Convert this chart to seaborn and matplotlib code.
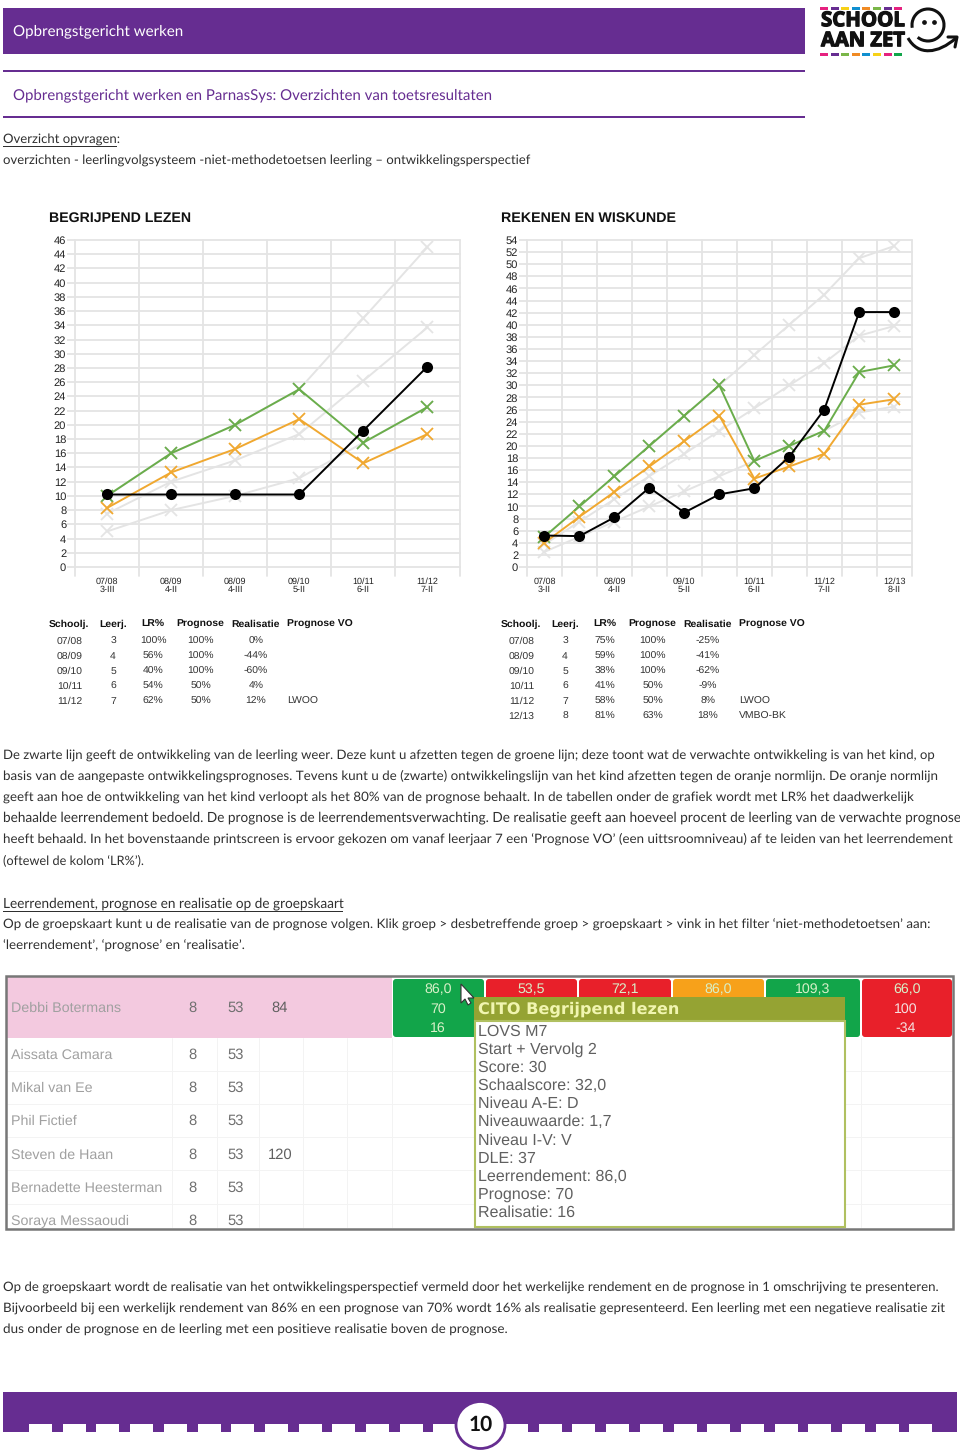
import numpy as np
import pandas as pd
import seaborn as sns
from matplotlib import pyplot as plt
from matplotlib import patheffects as pe
from matplotlib.patches import Rectangle, Ellipse, Arc, PathPatch, FancyBboxPatch
from matplotlib.path import Path

# --- chart data
left_labels = ['07/08\n3-III', '08/09\n4-II', '08/09\n4-III', '09/10\n5-II', '10/11\n6-II', '11/12\n7-II']
left_grey_top = [10, 16, 20, 25, 35, 45]
left_grey_mid = [7.5, 12, 15, 18.7, 26.2, 33.7]
left_grey_low = [5, 8, 10, 12.5, 17.5, 22.5]
left_green = [10, 16, 20, 25, 17.5, 22.5]
left_orange = [8.3, 13.3, 16.6, 20.8, 14.6, 18.7]
left_black = [10.2, 10.2, 10.2, 10.2, 19.2, 28.2]

right_labels = ['07/08\n3-II', '', '08/09\n4-II', '', '09/10\n5-II', '', '10/11\n6-II', '', '11/12\n7-II', '', '12/13\n8-II']
right_grey_top = [5, 10, 15, 20, 25, 30, 35, 40, 45, 51, 53]
right_grey_mid = [3.75, 7.5, 11.2, 15, 18.7, 22.5, 26.2, 30, 33.7, 38.2, 39.8]
right_grey_low = [2.5, 5, 7.5, 10, 12.5, 15, 17.5, 20, 22.5, 25.5, 26.5]
right_green = [5, 10, 15, 20, 25, 30, 17.5, 20, 22.5, 32.2, 33.3]
right_orange = [4, 8.3, 12.4, 16.6, 20.8, 25, 14.6, 16.6, 18.7, 26.8, 27.7]
right_black = [5.2, 5.1, 8.2, 13.1, 9, 12, 13, 18.2, 26, 42.1, 42.1]

# --- tables under the charts
table_head = ['Schoolj.', 'Leerj.', 'LR%', 'Prognose', 'Realisatie', 'Prognose VO']
left_rows = [
    ['07/08', '3', '100%', '100%', '0%', ''],
    ['08/09', '4', '56%', '100%', '-44%', ''],
    ['09/10', '5', '40%', '100%', '-60%', ''],
    ['10/11', '6', '54%', '50%', '4%', ''],
    ['11/12', '7', '62%', '50%', '12%', 'LWOO'],
]
right_rows = [
    ['07/08', '3', '75%', '100%', '-25%', ''],
    ['08/09', '4', '59%', '100%', '-41%', ''],
    ['09/10', '5', '38%', '100%', '-62%', ''],
    ['10/11', '6', '41%', '50%', '-9%', ''],
    ['11/12', '7', '58%', '50%', '8%', 'LWOO'],
    ['12/13', '8', '81%', '63%', '18%', 'VMBO-BK'],
]

# --- text blocks
para_1 = [
    'De zwarte lijn geeft de ontwikkeling van de leerling weer. Deze kunt u afzetten tegen de groene lijn; deze toont wat de verwachte ontwikkeling is van het kind, op',
    'basis van de aangepaste ontwikkelingsprognoses. Tevens kunt u de (zwarte) ontwikkelingslijn van het kind afzetten tegen de oranje normlijn. De oranje normlijn',
    'geeft aan hoe de ontwikkeling van het kind verloopt als het 80% van de prognose behaalt. In de tabellen onder de grafiek wordt met LR% het daadwerkelijk',
    'behaalde leerrendement bedoeld. De prognose is de leerrendementsverwachting. De realisatie geeft aan hoeveel procent de leerling van de verwachte prognose',
    'heeft behaald. In het bovenstaande printscreen is ervoor gekozen om vanaf leerjaar 7 een ‘Prognose VO’ (een uittsroomniveau) af te leiden van het leerrendement',
    '(oftewel de kolom ‘LR%’).',
]
para_1_ends = [943, 938, 913, 955, 952, 144]
para_2 = [
    'Op de groepskaart kunt u de realisatie van de prognose volgen. Klik groep > desbetreffende groep > groepskaart > vink in het filter ‘niet-methodetoetsen’ aan:',
    '‘leerrendement’, ‘prognose’ en ‘realisatie’.',
]
para_2_ends = [932, 246]
para_3 = [
    'Op de groepskaart wordt de realisatie van het ontwikkelingsperspectief vermeld door het werkelijke rendement en de prognose in 1 omschrijving te presenteren.',
    'Bijvoorbeeld bij een werkelijk rendement van 86% en een prognose van 70% wordt 16% als realisatie gepresenteerd. Een leerling met een negatieve realisatie zit',
    'dus onder de prognose en de leerling met een positieve realisatie boven de prognose.',
]
para_3_ends = [943, 943, 508]

# --- screenshot content
names = ['Debbi Botermans', 'Aissata Camara', 'Mikal van Ee', 'Phil Fictief', 'Steven de Haan', 'Bernadette Heesterman', 'Soraya Messaoudi']
leerjaar = ['8'] * 7
dle = ['53'] * 7
score = ['84', '', '', '', '120', '', '']
cell_tops = ['86,0', '53,5', '72,1', '86,0', '109,3', '66,0']
cell_colors = ['#12a54a', '#e8202a', '#e8202a', '#f7a11a', '#12a54a', '#e8202a']
popup_lines = ['LOVS M7', 'Start + Vervolg 2', 'Score: 30', 'Schaalscore: 32,0', 'Niveau A-E: D', 'Niveauwaarde: 1,7',
               'Niveau I-V: V', 'DLE: 37', 'Leerrendement: 86,0', 'Prognose: 70', 'Realisatie: 16']

PURPLE = '#662d91'
GRID = '#e4e4e4'
GREEN = '#6aad4b'
ORANGE = '#f0a830'
BODY = '#2f2f2f'
ARIAL = ['Liberation Sans', 'DejaVu Sans']

sns.set_style('white')
plt.rcParams['font.family'] = ['Lato', 'DejaVu Sans']
plt.rcParams['text.hinting'] = 'no_hinting'

fig = plt.figure(figsize=(9.6, 14.5), dpi=100)
pg = fig.add_axes([0, 0, 1, 1])
pg.set_xlim(0, 960)
pg.set_ylim(1450, 0)
pg.axis('off')
renderer = fig.canvas.get_renderer()


def txt(x, y, s, size=9.6, color=BODY, right=None, **kw):
    kw.setdefault('va', 'center')
    t = pg.text(x, y + 1, s, fontsize=size, color=color, **kw)
    if right is not None:
        # fit the line to the width it has in the picture
        for _ in range(3):
            w = t.get_window_extent(renderer).width
            t.set_fontsize(t.get_fontsize() * (right - x) / w)
    return t


def box(x0, y0, x1, y1, color, z=1, **kw):
    pg.add_patch(Rectangle((x0, y0), x1 - x0, y1 - y0, facecolor=color, edgecolor='none', zorder=z, **kw))


def draw_chart(rect, labels, ymax, grey_series, green, orange, black):
    x0, y0, x1, y1 = rect
    ax = fig.add_axes([x0 / 960, 1 - y1 / 1450, (x1 - x0) / 960, (y1 - y0) / 1450])
    ax.patch.set_alpha(0)
    xs = np.arange(len(labels))
    for g in grey_series:
        sns.lineplot(x=xs, y=g, ax=ax, color=GRID, lw=1.4, marker='x', ms=8, mew=1.3, mec=GRID, zorder=3)
    sns.lineplot(x=xs, y=green, ax=ax, color=GREEN, lw=1.4, marker='x', ms=8, mew=1.3, mec=GREEN, zorder=4)
    sns.lineplot(x=xs, y=orange, ax=ax, color=ORANGE, lw=1.4, marker='x', ms=8, mew=1.3, mec=ORANGE, zorder=5)
    sns.lineplot(x=xs, y=black, ax=ax, color='black', lw=1.4, marker='o', ms=8, mew=0, zorder=6)
    ax.set_xlim(-0.5, len(labels) - 0.5)
    px_per_unit = (567 - y0) / ymax
    ax.set_ylim(-(y1 - 567) / px_per_unit, ymax)
    ax.set_yticks(np.arange(0, ymax + 1, 2))
    ax.set_xticks(np.arange(-0.5, len(labels)))
    ax.set_xticklabels([])
    ax.set_xticks(xs, labels, minor=True)
    ax.grid(True, color=GRID, lw=1.3)
    ax.set_axisbelow(True)
    for line in ax.get_xgridlines() + ax.get_ygridlines():
        line.set_clip_on(False)
    ax.tick_params(axis='y', left=True, length=5.7, width=1.3, color=GRID, pad=0.6, labelsize=8, labelcolor='#222222')
    ax.tick_params(axis='x', which='major', length=0)
    ax.tick_params(axis='x', which='minor', length=0, pad=1.2, labelsize=6.5, labelcolor='#222222')
    for lab in ax.get_xticklabels(minor=True):
        lab.set_linespacing(0.95)
    for lab in ax.get_xticklabels(minor=True) + ax.get_yticklabels():
        lab.set_family(ARIAL)
    sns.despine(ax=ax, left=True, bottom=True)
    ax.set_xlabel('')
    ax.set_ylabel('')
    return ax


def draw_table(x_off, rows):
    head_x = [49, 99, 141, 176, 231, 287]
    for hx, h in zip(head_x, table_head):
        txt(hx + x_off, 623, h, size=7.5, color='#111111', weight='bold', family=ARIAL)
    centers = [69.5, 113, 153, 200.5, 256]
    for i, row in enumerate(rows):
        y = 640 + i * 15
        for cx, val in zip(centers, row[:5]):
            txt(cx + x_off, y, val, size=7.5, color='#333333', ha='center', family=ARIAL)
        if row[5]:
            txt(287 + x_off, y, row[5], size=7.5, color='#333333', family=ARIAL)


# --- header
box(3, 8, 805, 54, PURPLE)
txt(13, 30, 'Opbrengstgericht werken', size=11, color='white', right=183)
box(3, 69.5, 805, 71.5, PURPLE)
txt(13, 94, 'Opbrengstgericht werken en ParnasSys: Overzichten van toetsresultaten', size=11, color=PURPLE, right=493)
box(3, 116, 805, 118, PURPLE)
txt(3, 138, 'Overzicht opvragen:', right=120)
box(3, 146, 117, 147, BODY)
txt(3, 159, 'overzichten - leerlingvolgsysteem -niet-methodetoetsen leerling – ontwikkelingsperspectief', right=533)

# --- logo
dash_top = ['#e6217f', '#662d91', '#f7d117', '#0f8fd0', '#f08a24', '#7ab648', '#662d91', '#e6217f']
dash_bot = ['#e6217f', '#662d91', '#7ab648', '#f08a24', '#0f8fd0', '#f7d117', '#e6217f', '#12a54a']
for i in range(8):
    box(820 + i * 10.6, 7, 828 + i * 10.6, 9.5, dash_top[i])
    box(820 + i * 10.6, 53, 828 + i * 10.6, 55.5, dash_bot[i])
logo_fx = [pe.withStroke(linewidth=0.9, foreground='#111111')]
txt(821, 20, 'SCHOOL', size=16, color='#111111', weight='bold', right=905, family=['Open Sans'], path_effects=logo_fx)
txt(821, 40, 'AAN ZET', size=16, color='#111111', weight='bold', right=905, family=['Open Sans'], path_effects=logo_fx)
pg.add_patch(Arc((928, 25), 32, 32, theta1=170, theta2=490, color='#111111', lw=2.2, zorder=2))
pg.plot([924, 934], [22, 22], ls='none', marker='o', ms=2.4, color='#111111')
swoosh = Path([(908, 38), (918, 56), (938, 54), (956, 38)], [Path.MOVETO, Path.CURVE4, Path.CURVE4, Path.CURVE4])
pg.add_patch(PathPatch(swoosh, fc='none', ec='#111111', lw=2.2))
pg.plot([948, 957, 955], [37, 37, 47], color='#111111', lw=2.2)

# --- charts
txt(49, 217, 'BEGRIJPEND LEZEN', size=10.6, color='#111111', weight='bold', family=ARIAL, right=191)
txt(501, 217, 'REKENEN EN WISKUNDE', size=10.6, color='#111111', weight='bold', family=ARIAL, right=675)
draw_chart((75, 240, 459.5, 575.5), left_labels, 46,
           [left_grey_top, left_grey_mid, left_grey_low], left_green, left_orange, left_black)
draw_chart((527, 240, 911.7, 575.5), right_labels, 54,
           [right_grey_top, right_grey_mid, right_grey_low], right_green, right_orange, right_black)
draw_table(0, left_rows)
draw_table(452, right_rows)

# --- paragraphs
for i, (line, end) in enumerate(zip(para_1, para_1_ends)):
    txt(3, 754 + i * 21, line, right=end)
txt(3, 903, 'Leerrendement, prognose en realisatie op de groepskaart', right=343)
box(3, 911, 343, 912, BODY)
for i, (line, end) in enumerate(zip(para_2, para_2_ends)):
    txt(3, 924 + i * 21, line, right=end)
for i, (line, end) in enumerate(zip(para_3, para_3_ends)):
    txt(3, 1286 + i * 21, line, right=end)

# --- screenshot of the groepskaart
box(7, 977, 392, 1038, '#f3c9df', z=1)
for x in [172, 217, 259, 303, 347, 392, 486, 861]:
    pg.plot([x, x], [1038, 1227], color='#f3f3f3', lw=0.7, zorder=1)
for y in [1071, 1104, 1137, 1170, 1204]:
    pg.plot([7, 953], [y, y], color='#f3f3f3', lw=0.7, zorder=1)
row_y = [1007, 1054, 1087, 1120, 1154, 1187, 1220]
for i, y in enumerate(row_y):
    txt(11, y, names[i], size=10.3, color='#a0a0a0', family=ARIAL, zorder=2)
    txt(192, y, leerjaar[i], size=10.6, color='#707070', ha='center', family=ARIAL, zorder=2)
    txt(236, y, dle[i], size=10.6, color='#707070', ha='center', family=ARIAL, zorder=2)
    if score[i]:
        txt(280, y, score[i], size=10.6, color='#606060', ha='center', family=ARIAL, zorder=2)
edges = [392, 485, 578, 672, 765, 861, 953]
for i, (top, col) in enumerate(zip(cell_tops, cell_colors)):
    pg.add_patch(FancyBboxPatch((edges[i] + 3, 981), edges[i + 1] - edges[i] - 6, 54,
                                boxstyle='round,pad=2,rounding_size=3', fc=col, ec='none', zorder=2))
    txt((edges[i] + edges[i + 1]) / 2, 989, top, size=10.2, color='#d8f0c8', ha='center', family=ARIAL, zorder=3)
txt(438, 1008, '70', size=10.2, color='#d8f0c8', ha='center', family=ARIAL, zorder=3)
txt(438, 1027, '16', size=10.2, color='#d8f0c8', ha='center', family=ARIAL, zorder=3)
txt(906, 1008, '100', size=10.2, color='#f6e0e0', ha='center', family=ARIAL, zorder=3)
txt(906, 1027, '-34', size=10.2, color='#f6e0e0', ha='center', family=ARIAL, zorder=3)
# mouse pointer
pg.fill([461, 461, 465, 468, 471, 468, 474], [984, 1003, 999, 1005, 1003, 998, 998], fc='white', ec='#333333', lw=0.8, zorder=6)
# popup
box(474, 1000, 845, 1226, 'white', z=4)
box(474, 997, 845, 1021, '#95a333', z=5)
pg.add_patch(Rectangle((474.5, 1021), 370, 206, fc='none', ec='#b0c060', lw=1.5, zorder=5))
txt(478, 1008, 'CITO Begrijpend lezen', size=12, color='#f1f5b0', weight='bold', family=['DejaVu Sans'], right=678, zorder=6)
for i, line in enumerate(popup_lines):
    txt(478, 1030.5 + i * 18.15, line, size=11.5, color='#606060', family=ARIAL, zorder=6)
box(0, 1229, 960, 1240, 'white', z=7)
pg.add_patch(Rectangle((6, 975.5), 947, 253, fc='none', ec='#777777', lw=1.8, zorder=8))

# --- footer
box(3, 1392, 957, 1432, PURPLE)
for i in range(13):
    box(29 + i * 33.7, 1424, 52 + i * 33.7, 1433, 'white', z=2)
for i in range(13):
    box(505 + i * 33.7, 1424, 528 + i * 33.7, 1433, 'white', z=2)
box(455, 1424, 505, 1433, 'white', z=2)
pg.add_patch(Ellipse((480.5, 1425), 49, 47, fc='white', ec=PURPLE, lw=2, zorder=3))
txt(480.5, 1424, '10', size=15, color='#111111', ha='center', weight='bold', zorder=4)

fig.savefig('out.png', dpi=100)
